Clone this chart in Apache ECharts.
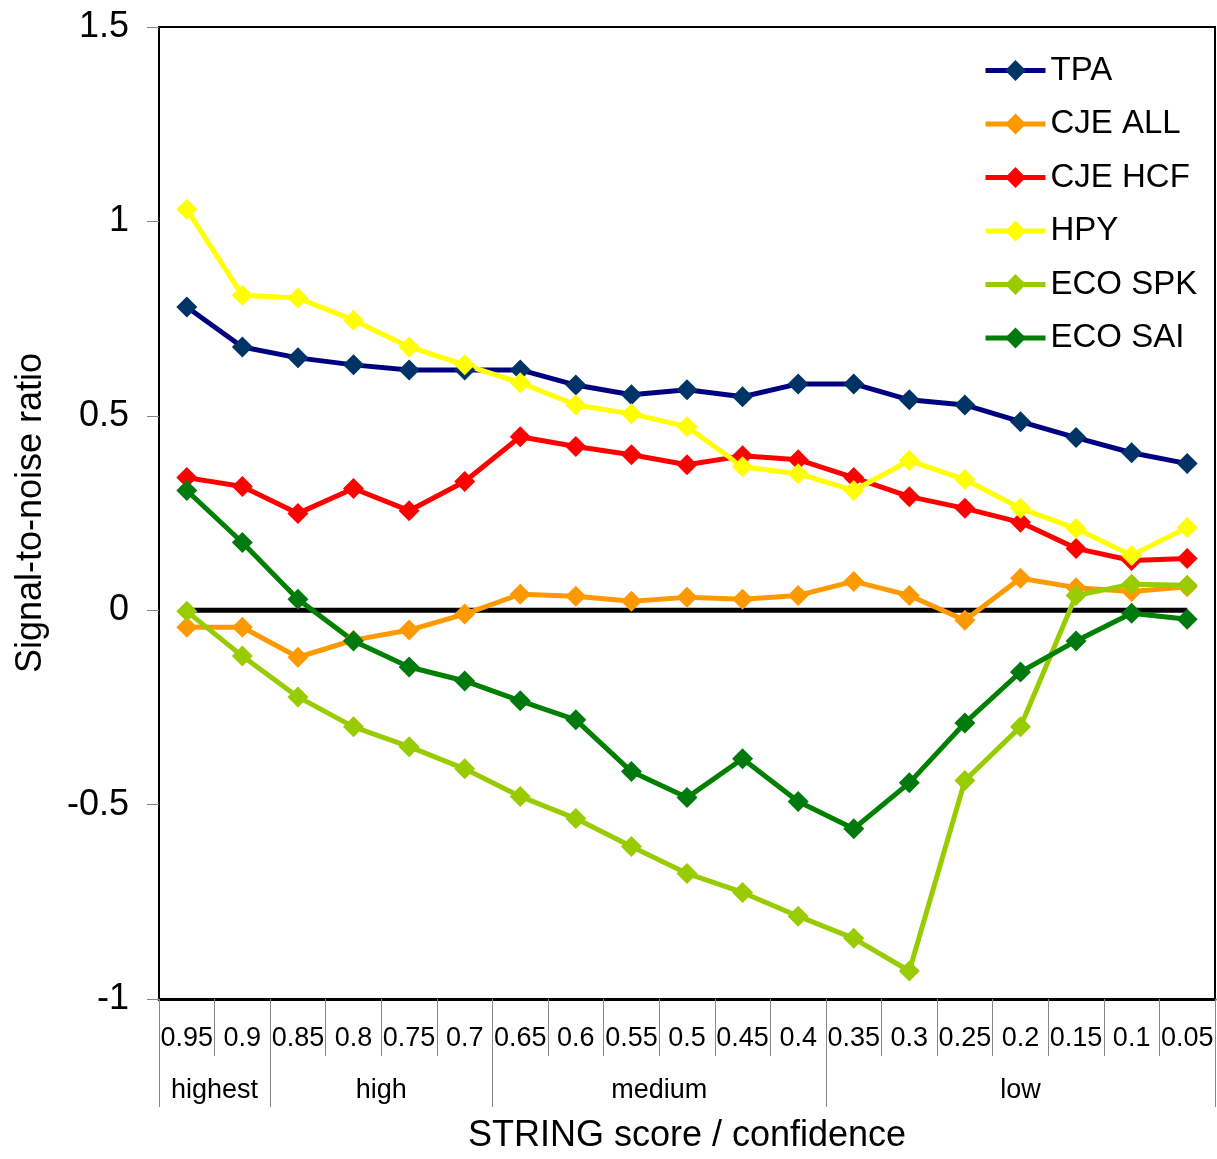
<!DOCTYPE html>
<html>
<head>
<meta charset="utf-8">
<script src="https://cdn.jsdelivr.net/npm/echarts@6/dist/echarts.min.js"></script>
<style>
html,body{margin:0;padding:0;background:#fff;}
#chart{width:1217px;height:1159px;}
</style>
</head>
<body>
<div id="chart"></div>
<script>
var categories = ['0.95','0.9','0.85','0.8','0.75','0.7','0.65','0.6','0.55','0.5','0.45','0.4','0.35','0.3','0.25','0.2','0.15','0.1','0.05'];
var groupNames = ['highest','high','medium','low'];
var groupSpans = [2,4,6,7];
var yTicks = {min:-1, max:1.5, interval:0.5};

var TPA    = [0.780,0.677,0.649,0.631,0.618,0.618,0.618,0.579,0.554,0.567,0.549,0.582,0.582,0.541,0.528,0.485,0.444,0.405,0.377];
var CJE_ALL= [-0.044,-0.044,-0.121,-0.077,-0.051,-0.010,0.041,0.036,0.023,0.033,0.028,0.038,0.074,0.038,-0.026,0.082,0.058,0.048,0.060];
var CJE_HCF= [0.341,0.318,0.249,0.313,0.256,0.331,0.446,0.421,0.400,0.374,0.397,0.387,0.341,0.292,0.262,0.226,0.159,0.128,0.133];
var HPY    = [1.031,0.810,0.803,0.746,0.677,0.631,0.585,0.528,0.505,0.472,0.369,0.351,0.308,0.385,0.336,0.262,0.210,0.141,0.213];
var ECO_SPK= [-0.003,-0.118,-0.223,-0.300,-0.351,-0.408,-0.479,-0.536,-0.608,-0.677,-0.726,-0.787,-0.844,-0.928,-0.438,-0.300,0.038,0.067,0.064];
var ECO_SAI= [0.308,0.174,0.028,-0.079,-0.146,-0.182,-0.233,-0.282,-0.415,-0.482,-0.382,-0.492,-0.562,-0.444,-0.290,-0.159,-0.079,-0.008,-0.023];
var baseline = [0,0,0,0,0,0,0,0,0,0,0,0,0,0,0,0,0,0,0];

// half-unit group axis: 2*19+1 points
var halfCats = [], groupBounds = [0], groupCenters = {};
(function(){
  var pos = 0;
  for (var g=0; g<groupSpans.length; g++){
    groupCenters[pos + groupSpans[g]] = groupNames[g];
    pos += 2*groupSpans[g];
    groupBounds.push(pos);
  }
  for (var k=0;k<=2*categories.length;k++){ halfCats.push(groupCenters[k] || ''); }
})();

var FONT = 'Liberation Sans';
function mk(name, data, lineColor, markColor){
  return {
    name: name, type:'line', data:data, xAxisIndex:0, yAxisIndex:0,
    symbol:'diamond', symbolSize:[21,21],
    lineStyle:{color:lineColor, width:5},
    itemStyle:{color:markColor},
    emphasis:{disabled:true},
    animation:false
  };
}

var chart = echarts.init(document.getElementById('chart'), null, {renderer:'canvas'});
chart.setOption({
  backgroundColor:'#ffffff',
  animation:false,
  textStyle:{fontFamily:FONT},
  grid:{left:159, top:27, right:2, bottom:159, show:true, borderColor:'#000', borderWidth:2, backgroundColor:'transparent'},
  legend:{
    orient:'vertical', left:983, top:54, padding:0, itemWidth:60, itemHeight:26, itemGap:20.5,
    textStyle:{fontFamily:FONT, fontSize:33, color:'#000'},
    lineStyle:{width:5},
    data:['TPA','CJE ALL','CJE HCF','HPY','ECO SPK','ECO SAI']
  },
  xAxis:[
    {
      type:'category', data:categories, position:'bottom', boundaryGap:true,
      axisLine:{show:true, onZero:false, lineStyle:{color:'#000', width:3}},
      axisTick:{show:true, inside:false, length:57, lineStyle:{color:'#888', width:1}},
      axisLabel:{show:true, margin:26, fontFamily:FONT, fontSize:27, color:'#000', interval:0},
      splitLine:{show:false}
    },
    {
      type:'category', data:halfCats, position:'bottom', boundaryGap:false, gridIndex:0,
      axisLine:{show:false, onZero:false},
      axisTick:{show:true, length:108, lineStyle:{color:'#888', width:1},
        interval:function(i){ return groupBounds.indexOf(i) >= 0; }},
      axisLabel:{show:true, margin:78, fontFamily:FONT, fontSize:27, color:'#000',
        interval:function(i,v){ return v !== ''; }},
      splitLine:{show:false},
      name:'STRING score / confidence', nameLocation:'middle', nameGap:119,
      nameTextStyle:{fontFamily:FONT, fontSize:36, color:'#000'}
    }
  ],
  yAxis:{
    type:'value', min:yTicks.min, max:yTicks.max, interval:yTicks.interval,
    axisLine:{show:true, lineStyle:{color:'#000', width:2}},
    axisTick:{show:true, length:12, lineStyle:{color:'#888', width:1}},
    axisLabel:{margin:30, fontFamily:FONT, fontSize:36, color:'#000',
      formatter:function(v){ return String(Math.round(v*10)/10); }},
    splitLine:{show:false},
    name:'Signal-to-noise ratio', nameLocation:'middle', nameGap:110, nameRotate:90,
    nameTextStyle:{fontFamily:FONT, fontSize:36, color:'#000'}
  },
  series:[
    {name:'zero', type:'line', data:baseline, symbol:'none', lineStyle:{color:'#000', width:5}, z:1, silent:true, animation:false},
    mk('TPA', TPA, '#000080', '#003366'),
    mk('CJE ALL', CJE_ALL, '#FF9900', '#FF9900'),
    mk('CJE HCF', CJE_HCF, '#FF0000', '#FF0000'),
    mk('HPY', HPY, '#FFFF00', '#FFFF00'),
    mk('ECO SPK', ECO_SPK, '#99CC00', '#99CC00'),
    mk('ECO SAI', ECO_SAI, '#008000', '#007A0F')
  ]
});
</script>
</body>
</html>
